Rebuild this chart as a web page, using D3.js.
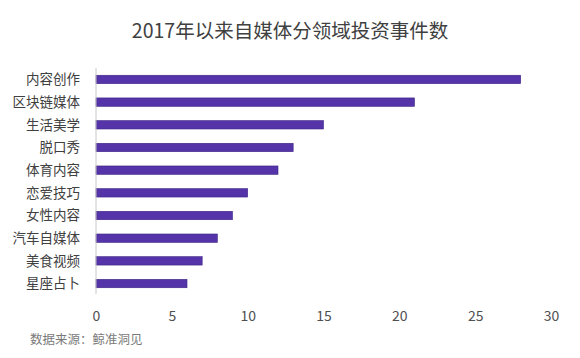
<!DOCTYPE html>
<html><head><meta charset="utf-8">
<script src="https://cdn.jsdelivr.net/npm/d3@7"></script>
<style>body{margin:0;background:#fff}svg{display:block}text{font-family:"Noto Sans CJK SC","Noto Sans",sans-serif}</style>
</head><body><svg id="c" width="580" height="358"></svg>
<script>
const categories = ["内容创作","区块链媒体","生活美学","脱口秀","体育内容","恋爱技巧","女性内容","汽车自媒体","美食视频","星座占卜"];
const values = [28,21,15,13,12,10,9,8,7,6];
const tickValues = [0,5,10,15,20,25,30];
const title = "2017年以来自媒体分领域投资事件数";
const source = "数据来源：鲸准洞见";

const svg = d3.select("#c");
const x = d3.scaleLinear().domain([0,30]).range([96,551]);
const y = d3.scaleBand().domain(categories).range([68,295]).paddingInner(0.63).paddingOuter(0.32);

svg.append("text").attr("x",290).attr("y",38).attr("text-anchor","middle")
  .attr("font-size",19.5).attr("fill","#404040").text(title);

svg.selectAll("rect.bar").data(values).join("rect").attr("class","bar")
  .attr("x",x(0)).attr("y",(d,i)=>y(categories[i]))
  .attr("width",d=>x(d)-x(0)).attr("height",y.bandwidth())
  .attr("fill","#5533a8").attr("stroke","#3e2585").attr("stroke-width",0.6);

svg.append("line").attr("x1",x(0)).attr("x2",x(0)).attr("y1",68).attr("y2",294)
  .attr("stroke","#c8c8c8").attr("stroke-width",1);

svg.selectAll("text.cat").data(categories).join("text").attr("class","cat")
  .attr("x",80).attr("y",d=>y(d)+y.bandwidth()/2).attr("dy","0.35em")
  .attr("text-anchor","end").attr("font-size",13.5).attr("fill","#404040").text(d=>d);

const ax = svg.append("g").attr("transform","translate(0,321)")
  .call(d3.axisBottom(x).tickValues(tickValues).tickSize(0).tickPadding(0));
ax.select(".domain").remove();
ax.selectAll("text").attr("font-size",14).attr("fill","#505050").attr("y",0).attr("dy","0")
  .style("font-family",'"Noto Sans CJK SC","Noto Sans",sans-serif');

svg.append("text").attr("x",30).attr("y",344).attr("font-size",12.5).attr("fill","#7a7a7a").text(source);
</script></body></html>
